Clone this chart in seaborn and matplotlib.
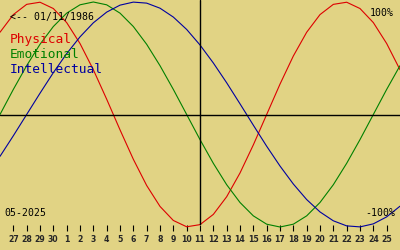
import matplotlib
matplotlib.use("Agg")
import matplotlib.pyplot as plt
import seaborn as sns
import pandas as pd

# ---- data ----
day_labels = ["27", "28", "29", "30", "1", "2", "3", "4", "5", "6", "7", "8", "9", "10",
              "11", "12", "13", "14", "15", "16", "17", "18", "19", "20", "21", "22",
              "23", "24", "25"]
# sample positions: 0 = 26 Apr ... 30 = 26 May
day_index = list(range(31))
physical = [0.731, 0.888, 0.979, 0.998, 0.942, 0.817, 0.631, 0.398, 0.136, -0.136,
            -0.398, -0.631, -0.817, -0.942, -0.998, -0.979, -0.888, -0.731, -0.520,
            -0.270, 0.000, 0.270, 0.520, 0.731, 0.888, 0.979, 0.998, 0.942, 0.817,
            0.631, 0.398]
emotional = [0.000, 0.223, 0.434, 0.624, 0.782, 0.901, 0.975, 1.000, 0.975, 0.901,
             0.782, 0.624, 0.434, 0.223, 0.000, -0.223, -0.434, -0.624, -0.782,
             -0.901, -0.975, -1.000, -0.975, -0.901, -0.782, -0.624, -0.434, -0.223,
             0.000, 0.223, 0.434]
intellectual = [-0.372, -0.189, 0.000, 0.189, 0.372, 0.541, 0.690, 0.815, 0.910,
                0.972, 0.999, 0.990, 0.945, 0.866, 0.756, 0.618, 0.458, 0.282, 0.095,
                -0.095, -0.282, -0.458, -0.618, -0.756, -0.866, -0.945, -0.990, -0.999,
                -0.972, -0.910, -0.815]
series_names = ["Physical", "Emotional", "Intellectual"]
birth_text = "<-- 01/11/1986"
month_text = "05-2025"
today_index = 15

BG = "#e1d384"
colors = {"Physical": "#dd0000", "Emotional": "#008000", "Intellectual": "#0000a0"}

df = pd.concat([
    pd.DataFrame({"day": day_index, "value": vals, "series": name})
    for name, vals in zip(series_names, [physical, emotional, intellectual])
])

sns.set_style("white")
plt.rcParams["font.family"] = ["DejaVu Sans"]

W, H = 400, 250
fig = plt.figure(figsize=(4, 2.5), dpi=100, facecolor=BG)
ax = fig.add_axes([0, 25 / H, 1, 225 / H])
ax.set_facecolor(BG)

sns.lineplot(data=df, x="day", y="value", hue="series", palette=colors,
             hue_order=series_names, legend=False, ax=ax, linewidth=0.8,
             sort=False, clip_on=False)

ax.axhline(0, color="black", lw=1.0)
ax.axvline(today_index, color="black", lw=1.0)

ax.set_xlim(0, 30)
ax.set_ylim(1 - 225 / 112.5 + 2 / 112.5, 1 + 2 / 112.5)
for s in ax.spines.values():
    s.set_visible(False)
ax.set_yticks([])
ax.set_xticks(range(1, 30))
ax.set_xticklabels(day_labels, fontsize=5.6, fontweight="bold")
ax.tick_params(axis="x", direction="out", length=4.3, width=0.8, color="black",
               pad=2.8, bottom=True)
ax.set_xlabel("")
ax.set_ylabel("")


def ptext(x, y, s, **kw):
    fig.text(x / W, 1 - y / H, s, va="baseline", family="DejaVu Sans Mono", **kw)


ptext(10, 20, birth_text, fontsize=7.1, color="black")
ptext(10, 43, series_names[0], fontsize=9.3, color=colors["Physical"])
ptext(10, 58, series_names[1], fontsize=9.3, color=colors["Emotional"])
ptext(10, 73, series_names[2], fontsize=9.3, color=colors["Intellectual"])
ptext(394, 16, "100%", fontsize=7.1, color="black", ha="right")
ptext(395, 216, "-100%", fontsize=7.1, color="black", ha="right")
ptext(4, 216, month_text, fontsize=7.1, color="black")

fig.savefig("out.png", dpi=100, facecolor=BG)
